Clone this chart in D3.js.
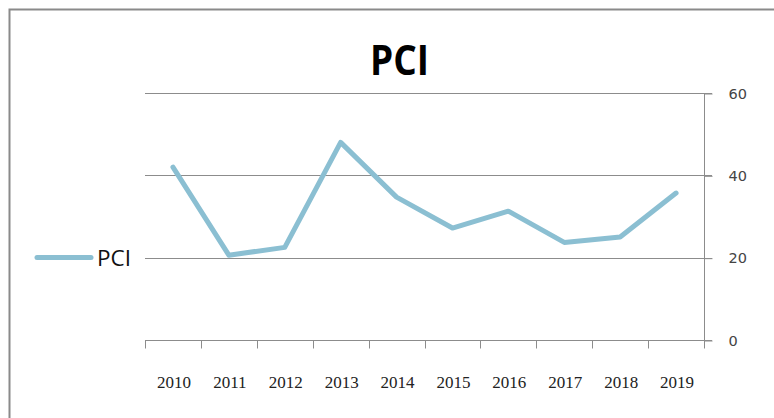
<!DOCTYPE html>
<html>
<head>
<meta charset="utf-8">
<script src="https://cdn.jsdelivr.net/npm/d3@7"></script>
<style>
  html, body { margin: 0; padding: 0; background: #fff; overflow: hidden; }
  svg { display: block; }
</style>
</head>
<body>
<div id="chart"></div>
<script>
const years = ["2010","2011","2012","2013","2014","2015","2016","2017","2018","2019"];
const pciValues = [42, 20.6, 22.5, 48, 34.7, 27.2, 31.3, 23.7, 25, 35.7];
const yTicks = [0, 20, 40, 60];
const seriesName = "PCI";
const chartTitle = "PCI";

const W = 774, H = 418;
const svg = d3.select("#chart").append("svg").attr("width", W).attr("height", H);

// outer frame
svg.append("rect").attr("x", 9.5).attr("y", 9.5).attr("width", 900).attr("height", 600)
  .attr("fill", "#fff").attr("stroke", "#8a8a8a").attr("stroke-width", 2);

const plot = {left: 145, right: 704, top: 93, bottom: 340};
const x = d3.scaleBand().domain(years).range([plot.left, plot.right]).padding(0);
const y = d3.scaleLinear().domain([0, 60]).range([plot.bottom, plot.top]);

// gridlines
svg.append("g").selectAll("line").data(yTicks).join("line")
  .attr("x1", plot.left).attr("x2", plot.right + 8)
  .attr("y1", d => Math.round(y(d)) + 0.5).attr("y2", d => Math.round(y(d)) + 0.5)
  .attr("stroke", "#8c8c8c").attr("stroke-width", 1);

// right axis
const yAxis = svg.append("g").attr("transform", `translate(${plot.right + 0.5},0)`)
  .call(d3.axisRight(y).tickValues(yTicks).tickSize(8).tickPadding(16));
yAxis.select(".domain").remove();
yAxis.append("line").attr("x1", 0).attr("x2", 0).attr("y1", plot.top).attr("y2", plot.bottom + 8)
  .attr("stroke", "#8c8c8c");
yAxis.selectAll(".tick line").attr("stroke", "#8c8c8c").attr("y1", 0.5).attr("y2", 0.5);
yAxis.selectAll(".tick text").attr("font-family", "DejaVu Sans").attr("font-size", 14.5)
  .attr("fill", "#444").attr("dy", "0.36em").attr("y", 0);

// bottom axis ticks (between categories)
const xAxis = svg.append("g").attr("transform", `translate(0,${Math.round(plot.bottom) + 0.5})`);
const tickPos = years.map(yr => x(yr)).concat([plot.right]);
xAxis.selectAll("line.tk").data(tickPos).join("line").attr("class", "tk")
  .attr("x1", d => Math.round(d) + 0.5).attr("x2", d => Math.round(d) + 0.5)
  .attr("y1", 0).attr("y2", 8).attr("stroke", "#8c8c8c");
xAxis.selectAll("text").data(years).join("text")
  .attr("x", d => x(d) + x.bandwidth() / 2 + 1).attr("y", 47)
  .attr("text-anchor", "middle").attr("font-family", "Liberation Serif").attr("font-size", 17)
  .attr("fill", "#222").text(d => d);

// line
const line = d3.line().x((d, i) => x(years[i]) + x.bandwidth() / 2).y(d => y(d));
svg.append("path").datum(pciValues).attr("d", line).attr("fill", "none")
  .attr("stroke", "#8bbfd2").attr("stroke-width", 5).attr("stroke-linejoin", "round").attr("stroke-linecap", "round");

// title
svg.append("text").attr("x", 399.5).attr("y", 75).attr("text-anchor", "middle")
  .attr("font-family", "Open Sans").attr("font-weight", "bold").attr("font-size", 41)
  .attr("textLength", 59).attr("lengthAdjust", "spacingAndGlyphs")
  .attr("fill", "#000").text(chartTitle);

// legend
const lg = svg.append("g");
lg.append("line").attr("x1", 37).attr("x2", 91).attr("y1", 257.5).attr("y2", 257.5)
  .attr("stroke", "#8bbfd2").attr("stroke-width", 5).attr("stroke-linecap", "round");
lg.append("text").attr("x", 97).attr("y", 265.5).attr("font-family", "Open Sans")
  .attr("font-size", 21).attr("textLength", 34).attr("lengthAdjust", "spacingAndGlyphs")
  .attr("fill", "#111").text(seriesName);
</script>
</body>
</html>
